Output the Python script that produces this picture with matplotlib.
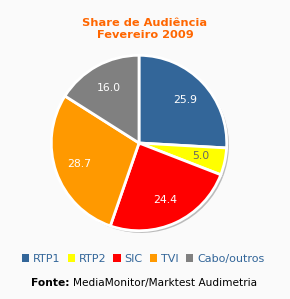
import matplotlib
matplotlib.use("Agg")
import matplotlib.pyplot as plt
from matplotlib.patches import Rectangle

categories = ["RTP1", "RTP2", "SIC", "TVI", "Cabo/outros"]
values = [25.9, 5.0, 24.4, 28.7, 16.0]
colors = ["#336699", "#FFFF00", "#FF0000", "#FF9900", "#808080"]
label_colors = ["white", "#666666", "white", "white", "white"]
title = "Share de Audiência\nFevereiro 2009"

bg = "#FAFAFA"
fig = plt.figure(figsize=(2.9, 2.99), dpi=100, facecolor=bg)
cx, cy = 139 / 290, 1 - 143 / 299
w, h = 0.605, 0.605 * 290 / 299
ax = fig.add_axes([cx - w / 2, cy - h / 2, w, h])
ax.set_facecolor(bg)

# shadow pie
ax.pie(values, colors=["#BBBBBB"] * 5, startangle=90, counterclock=False,
       radius=1.0, center=(0.025, -0.025),
       wedgeprops=dict(edgecolor="none"))
wedges, texts = ax.pie(values, colors=colors, startangle=90, counterclock=False,
                       radius=1.0, labels=[f"{v:.1f}" for v in values],
                       labeldistance=0.72,
                       wedgeprops=dict(edgecolor="white", linewidth=2.0),
                       textprops=dict(fontsize=7.8))
for t, c in zip(texts, label_colors):
    t.set_color(c)
    t.set_ha("center")
ax.set_xlim(-1.0, 1.0)
ax.set_ylim(-1.0, 1.0)
ax.set_aspect("equal")
ax.axis("off")

fig.text(0.5, 1 - 37.5 / 299, title, ha="center", va="baseline", color="#FF6600",
         fontsize=8.2, fontweight="bold", linespacing=1.25)

# legend
handles = [Rectangle((0, 0), 1, 1, facecolor=c, edgecolor="none") for c in colors]
leg = fig.legend(handles, categories, loc="center", bbox_to_anchor=(0.493, 1 - 259 / 299),
                 ncol=5, frameon=False, fontsize=8, handlelength=0.65,
                 handleheight=0.65, handletextpad=0.35, columnspacing=0.65,
                 borderpad=0)
for t in leg.get_texts():
    t.set_color("#336699")

fy = 1 - 283 / 299
fig.text(70 / 290, fy, "Fonte:", ha="right", va="center", fontsize=7.7,
         fontweight="bold", color="black")
fig.text(73 / 290, fy, "MediaMonitor/Marktest Audimetria", ha="left", va="center",
         fontsize=7.6, color="black")

fig.savefig("out.png", dpi=100, facecolor=bg)
